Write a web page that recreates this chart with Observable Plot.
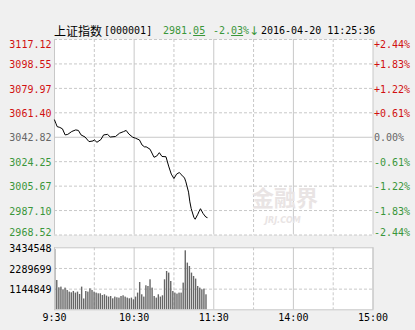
<!DOCTYPE html>
<html><head><meta charset="utf-8">
<script src="https://cdn.jsdelivr.net/npm/d3@7"></script>
<script src="https://cdn.jsdelivr.net/npm/@observablehq/plot@0.6"></script>
<style>
body{margin:0;background:#f0f0f0;width:415px;height:330px;overflow:hidden;position:relative;font-family:"DejaVu Sans Mono",monospace;}
.t{position:absolute;top:25px;font-size:10px;line-height:12px;white-space:nowrap;}
.cn{font-family:"Noto Sans CJK SC";font-size:12px;top:24px;line-height:14px;}
.g{color:#3a963a}
.arr{font-family:"DejaVu Sans";font-size:12px;top:24px;line-height:14px;}
#main,#vol{position:absolute;left:0}
#main{top:0} #vol{top:240px}
.wm{position:absolute;font-family:"Noto Sans CJK SC";font-weight:bold;color:#e9e4e4;white-space:nowrap}
</style></head><body>
<div class="t cn" style="left:54px">上证指数</div>
<div class="t" style="left:104px">[000001]</div>
<div class="t g" style="left:163px">2981.<u>05</u></div>
<div class="t g" style="left:213px">-2.<u>03</u>%</div>
<div class="t g arr" style="left:249px">↓</div>
<div class="t" style="left:261px">2016-04-20 11:25:36</div>
<div id="main"></div>
<div id="vol"></div>
<div class="wm" style="left:252px;top:185px;font-size:22px;line-height:22px;">金融界</div>
<div class="wm" style="left:265px;top:216px;font-size:8px;line-height:9px;font-family:'DejaVu Sans';font-style:italic">JRJ.COM</div>
<script>
const prevClose = 3042.82;
const priceTicks = [3117.12, 3098.55, 3079.97, 3061.40, 3042.82, 3024.25, 3005.67, 2987.10, 2968.52];
const pctTicks = ["+2.44%", "+1.83%", "+1.22%", "+0.61%", "0.00%", "-0.61%", "-1.22%", "-1.83%", "-2.44%"];
const timeTicks = [0, 60, 120, 180, 240];
const timeLabels = ["9:30", "10:30", "11:30", "14:00", "15:00"];
const halfHourTicks = [30, 90, 150, 210];
const volTicks = [3434548, 2289699, 1144849];

const priceMinutes = [0,1,2,4,6,8,10,13,16,18,20,23,26,29,30,32,35,37,40,42,46,49,52,54,56,59,61,64,66,68,69,72,75,77,79,81,84,86,88,90,92,94,96,98,99,101,102,103,105,106,108,109,110,112,114,115];
const prices = [3056.0,3053.5,3050.9,3050.3,3049.2,3044.6,3045.0,3047.2,3048.4,3048.0,3044.6,3043.0,3039.5,3040.0,3040.8,3039.0,3041.1,3044.6,3045.0,3043.0,3043.4,3045.9,3047.1,3048.0,3045.3,3042.8,3042.1,3040.8,3036.9,3035.4,3035.6,3033.7,3027.6,3028.5,3031.1,3028.2,3028.0,3020.9,3014.8,3011.4,3014.8,3016.0,3014.0,3011.8,3008.9,3001.1,2993.7,2988.6,2982.0,2980.5,2984.3,2986.6,2988.5,2984.8,2982.2,2981.8];

const volumes = [3340000,1623000,1219000,1257000,1108000,1202000,1069000,980000,942000,1014000,925000,980000,848000,1257000,600000,1014000,980000,1163000,1069000,980000,925000,886000,886000,792000,831000,759000,704000,737000,609000,704000,665000,648000,737000,776000,704000,648000,609000,
648000,554000,704000,925000,1512000,831000,704000,1330000,1291000,1662000,1202000,737000,648000,831000,704000,776000,1662000,2122000,2033000,1568000,1014000,925000,870000,925000,925000,1479000,3268000,2587000,2399000,2033000,1845000,1701000,1291000,1202000,1108000,1147000,831000];
const volLastMinute = 114;

const priceData = priceMinutes.map((m, i) => ({m, p: prices[i]}));
const volData = volumes.map((v, i) => ({t: i * volLastMinute / (volumes.length - 1), v}));

const grid = "#c8c8c8";
const dash = "3,2";
const red = "#d01010", green = "#3a963a", gray = "#666666";
const colorOf = d => d > prevClose ? red : d < prevClose ? green : gray;

const main = Plot.plot({
  width: 415, height: 240,
  marginLeft: 54, marginRight: 42.5, marginTop: 39, marginBottom: 5.5,
  x: {domain: [0, 240], axis: null},
  y: {domain: [2968.52, 3117.12], axis: null},
  color: {type: "identity"},
  style: {background: "transparent", overflow: "visible", fontFamily: "DejaVu Sans Mono", fontSize: "10px"},
  marks: [
    Plot.frame({fill: "white", stroke: "none"}),
    Plot.ruleY(priceTicks.filter(d => d !== prevClose), {stroke: grid, strokeDasharray: dash}),
    Plot.ruleY([prevClose], {stroke: grid}),
    Plot.ruleX(halfHourTicks, {stroke: grid, strokeDasharray: dash}),
    Plot.ruleX(timeTicks, {stroke: grid}),
    Plot.line(priceData, {x: "m", y: "p", stroke: "black", strokeWidth: 1}),
    Plot.text(priceTicks.slice(0, 1), {y: d => d, text: d => d.toFixed(2), frameAnchor: "left", textAnchor: "end", dx: -3, dy: 5, fill: colorOf}),
    Plot.text(priceTicks.slice(1, -1), {y: d => d, text: d => d.toFixed(2), frameAnchor: "left", textAnchor: "end", dx: -3, dy: 1, fill: colorOf}),
    Plot.text(priceTicks.slice(-1), {y: d => d, text: d => d.toFixed(2), frameAnchor: "left", textAnchor: "end", dx: -3, dy: -2, fill: colorOf}),
    Plot.text(priceTicks.slice(0, 1), {y: d => d, text: (d) => pctTicks[priceTicks.indexOf(d)], frameAnchor: "right", textAnchor: "start", dx: 1, dy: 5, fill: colorOf}),
    Plot.text(priceTicks.slice(1, -1), {y: d => d, text: (d) => pctTicks[priceTicks.indexOf(d)], frameAnchor: "right", textAnchor: "start", dx: 1, dy: 1, fill: colorOf}),
    Plot.text(priceTicks.slice(-1), {y: d => d, text: (d) => pctTicks[priceTicks.indexOf(d)], frameAnchor: "right", textAnchor: "start", dx: 1, dy: -2, fill: colorOf})
  ]
});
document.getElementById("main").append(main);

const vol = Plot.plot({
  width: 415, height: 90,
  marginLeft: 54, marginRight: 42.5, marginTop: 7.3, marginBottom: 20.7,
  x: {domain: [0, 240], axis: null},
  y: {domain: [0, 3434548], axis: null},
  style: {background: "transparent", overflow: "visible", fontFamily: "DejaVu Sans Mono", fontSize: "10px"},
  marks: [
    Plot.frame({fill: "white", stroke: "none"}),
    Plot.ruleY(volTicks.slice(1), {stroke: grid, strokeDasharray: dash}),
    Plot.ruleX(halfHourTicks, {stroke: grid, strokeDasharray: dash}),
    Plot.ruleX(timeTicks, {stroke: grid}),
    Plot.rectY(volData, {x1: "t", x2: d => d.t + 1.05, y: "v", fill: "#666666"}),
    Plot.frame({stroke: grid}),
    Plot.text(volTicks, {y: d => d, text: d => String(d), frameAnchor: "left", textAnchor: "end", dx: -3, dy: 1, fill: "black"}),
    Plot.text(timeTicks, {x: d => d, text: (d, i) => timeLabels[i], frameAnchor: "bottom", dy: 11, fill: "black"})
  ]
});
document.getElementById("vol").append(vol);
</script>
</body></html>
